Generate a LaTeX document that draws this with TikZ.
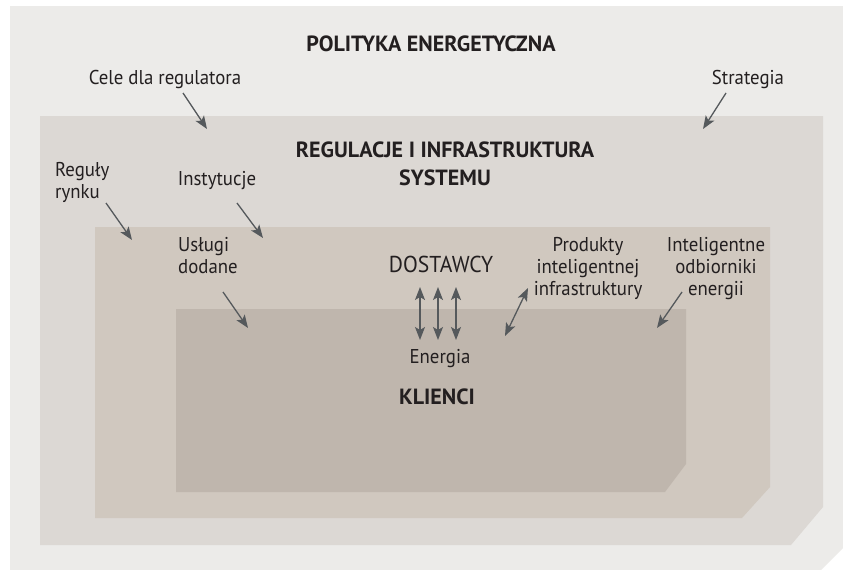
\documentclass[tikz,border=0pt]{standalone}
\usepackage{fontspec}
\setmainfont{PT Sans}[FakeStretch=0.94]
\newfontfamily\titlefont{PT Sans}
\usetikzlibrary{arrows.meta}
\definecolor{bgA}{HTML}{ECEBE9}
\definecolor{bgB}{HTML}{DCD8D4}
\definecolor{bgC}{HTML}{D0C8BF}
\definecolor{bgD}{HTML}{BFB6AD}
\definecolor{arr}{HTML}{55595C}
\definecolor{txt}{HTML}{231F20}
\tikzset{
  lbl/.style={inner sep=0pt, text=txt, font=\fontsize{20}{22}\selectfont, align=center},
  lbll/.style={lbl, align=left},
  ttl/.style={inner sep=0pt, text=txt, font=\titlefont\fontsize{22}{28}\selectfont\bfseries, align=center},
  arrw/.style={draw=arr, line width=1.3pt, -{Stealth[length=13pt,width=10pt,inset=3pt]}},
  darrw/.style={draw=arr, line width=1.3pt, {Stealth[length=13pt,width=10pt,inset=3pt]}-{Stealth[length=13pt,width=10pt,inset=3pt]}},
}
\begin{document}
\begin{tikzpicture}[x=1pt,y=-1pt]
\useasboundingbox (0,0) rectangle (843,570);
\fill[white] (0,0) rectangle (843,570);
\fill[bgA] (10,6) -- (843,6) -- (843,548) -- (821,570) -- (10,570) -- cycle;
\fill[bgB] (40,116) -- (823,116) -- (823,507) -- (791,545) -- (40,545) -- cycle;
\fill[bgC] (95,227) -- (770,227) -- (770,487) -- (742,518) -- (95,518) -- cycle;
\fill[bgD] (176,309) -- (686,309) -- (686,464) -- (665,492) -- (176,492) -- cycle;

\node[ttl, anchor=base] (pol) at (431,51) {POLITYKA ENERGETYCZNA};
\node[lbl, anchor=base] (cele) at (165,84) {Cele dla regulatora};
\node[lbl, anchor=base] (strat) at (748,84) {Strategia};
\node[ttl, anchor=north] (reg) at (445,142) {REGULACJE I INFRASTRUKTURA\\SYSTEMU};
\node[lbll, anchor=north west] (rr) at (55,162) {Reguły\\rynku};
\node[lbl, anchor=base] (inst) at (217,185) {Instytucje};
\node[lbll, anchor=north west] (usl) at (178,237) {Usługi\\dodane};
\node[inner sep=0pt, text=txt, font=\fontsize{23}{26}\selectfont, anchor=base] (dost) at (441,272) {DOSTAWCY};
\node[lbl, anchor=north] (prod) at (588,237) {Produkty\\inteligentnej\\infrastruktury};
\node[lbl, anchor=north] (odb) at (716,237) {Inteligentne\\odbiorniki\\energii};
\node[lbl, anchor=base] (en) at (440,363) {Energia};
\node[ttl, anchor=base] (kl) at (437,404) {KLIENCI};

\coordinate (c1) at (183,93);  \coordinate (c2) at (207,129);
\coordinate (s1) at (726,93);  \coordinate (s2) at (703,129);
\coordinate (r1) at (106,203); \coordinate (r2) at (132,240);
\coordinate (i1) at (237,203); \coordinate (i2) at (263,238);
\coordinate (u1) at (223,292); \coordinate (u2) at (248,328);
\coordinate (o1) at (682,292); \coordinate (o2) at (657,328);
\coordinate (p1) at (528,288); \coordinate (p2) at (505,336);
\coordinate (d1a) at (420,287); \coordinate (d1b) at (420,340);
\coordinate (d2a) at (438,287); \coordinate (d2b) at (438,340);
\coordinate (d3a) at (456,287); \coordinate (d3b) at (456,340);

\draw[arrw] (c1) -- (c2);
\draw[arrw] (s1) -- (s2);
\draw[arrw] (r1) -- (r2);
\draw[arrw] (i1) -- (i2);
\draw[arrw] (u1) -- (u2);
\draw[arrw] (o1) -- (o2);
\draw[darrw] (p1) -- (p2);
\draw[darrw] (d1a) -- (d1b);
\draw[darrw] (d2a) -- (d2b);
\draw[darrw] (d3a) -- (d3b);
\end{tikzpicture}
\end{document}
